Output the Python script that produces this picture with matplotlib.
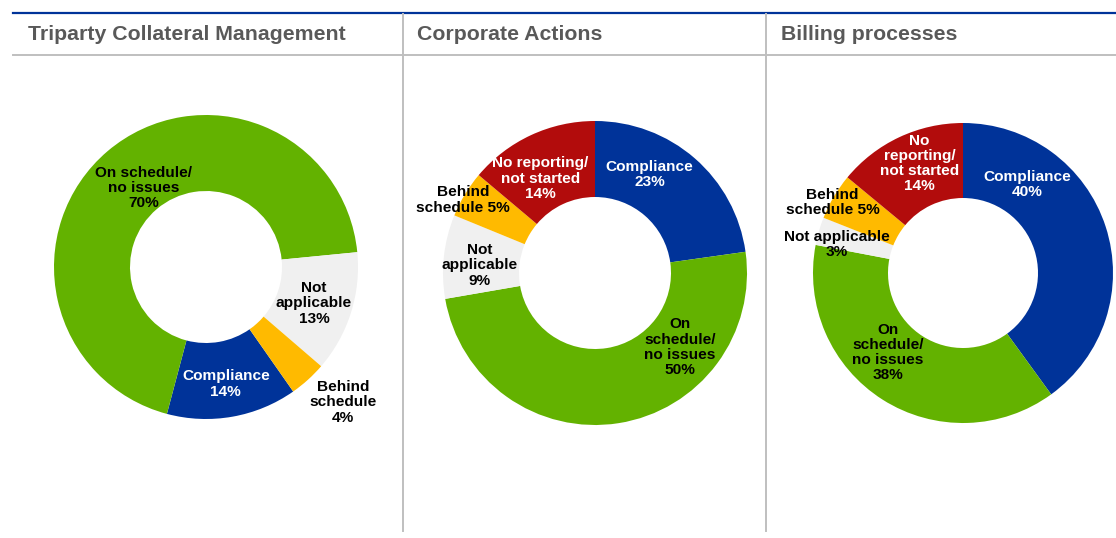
import numpy as np
import matplotlib
matplotlib.use("Agg")
import matplotlib.pyplot as plt
from matplotlib.lines import Line2D

plt.rcParams['font.family'] = ['Liberation Sans', 'DejaVu Sans']

# panel titles
titles = ["Triparty Collateral Management", "Corporate Actions", "Billing processes"]

# slice values, in clockwise order starting with Compliance
tripartyValues = [14, 70, 13, 4]
corporateValues = [23, 50, 9, 5, 14]
billingValues = [40, 38, 3, 5, 14]

tripartyLabels = ["Compliance\n14%", "On schedule/\nno issues\n70%",
                  "Not\napplicable\n13%", "Behind\nschedule\n4%"]
corporateLabels = ["Compliance\n23%", "On\nschedule/\nno issues\n50%",
                   "Not\napplicable\n9%", "Behind\nschedule 5%",
                   "No reporting/\nnot started\n14%"]
billingLabels = ["Compliance\n40%", "On\nschedule/\nno issues\n38%",
                 "Not applicable\n3%", "Behind\nschedule 5%",
                 "No\nreporting/\nnot started\n14%"]

# style
colors = ["#003399", "#63B200", "#F0F0F0", "#FFBA00", "#B20C0C"]
textColors = ["white", "black", "black", "black", "white"]
# label placement in units of outer radius
labelPos = [
    [(0.13, -0.77), (-0.41, 0.52), (0.71, -0.24), (0.90, -0.89)],
    [(0.36, 0.65), (0.56, -0.49), (-0.76, 0.05), (-0.87, 0.48), (-0.36, 0.62)],
    [(0.43, 0.59), (-0.50, -0.53), (-0.84, 0.19), (-0.87, 0.47), (-0.29, 0.73)],
]
startAngles = [-55, 90, 90]
# donut centres and radii in pixels (from top-left)
centres = [(206, 267), (595, 273), (963, 273)]
radii = [152, 152, 150]

W, H = 1116, 538
fig = plt.figure(figsize=(W / 100, H / 100), dpi=100)

allValues = [tripartyValues, corporateValues, billingValues]
allLabels = [tripartyLabels, corporateLabels, billingLabels]

lim = 1.4
for i in range(3):
    cx, cy = centres[i]
    r = radii[i]
    half = lim * r
    ax = fig.add_axes([(cx - half) / W, (H - cy - half) / H, 2 * half / W, 2 * half / H])
    vals = allValues[i]
    n = len(vals)
    ax.pie(vals, colors=colors[:n], startangle=startAngles[i], counterclock=False,
           radius=1.0, wedgeprops=dict(width=0.5, linewidth=0))
    # pie() resets the limits, so set them afterwards
    ax.set_xlim(-lim, lim)
    ax.set_ylim(-lim, lim)
    ax.set_aspect('equal')
    ax.axis('off')
    for j in range(n):
        x, y = labelPos[i][j]
        ax.text(x, y, allLabels[i][j], ha='center', va='center', fontsize=11.1,
                fontweight='bold', color=textColors[j], linespacing=1.12)

# header text
titleX = [28, 417, 781]
for i in range(3):
    fig.text(titleX[i] / W, 1 - 34 / H, titles[i], ha='left', va='center',
             fontsize=15.3, fontweight='bold', color='#595959')

# frame lines
fig.add_artist(Line2D([13 / W, 1], [1 - 13 / H, 1 - 13 / H], color='#003399', lw=1.6))
fig.add_artist(Line2D([13 / W, 1], [1 - 55 / H, 1 - 55 / H], color='#BFBFBF', lw=1.4))
for xp in [403, 766]:
    fig.add_artist(Line2D([xp / W, xp / W], [1 - 14 / H, 1 - 531 / H], color='#BFBFBF', lw=1.4))

fig.savefig("out.png", dpi=100)
